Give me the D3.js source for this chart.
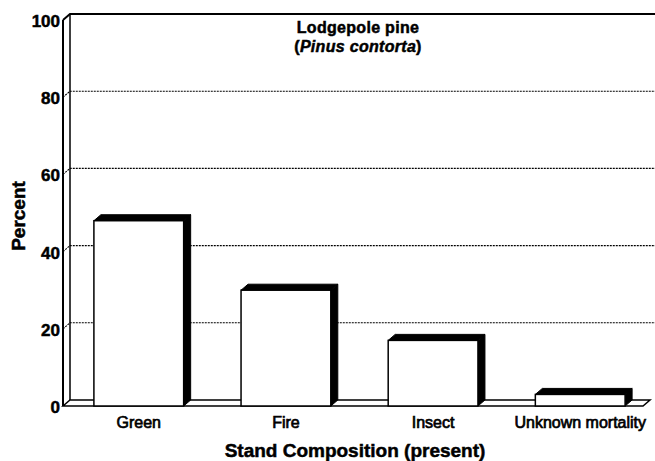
<!DOCTYPE html>
<html>
<head>
<meta charset="utf-8">
<script src="https://cdn.jsdelivr.net/npm/d3@7"></script>
<style>
  body { margin: 0; background: #fff; }
  text { font-family: "Liberation Sans", Arial, Helvetica, sans-serif; fill: #000; }
</style>
</head>
<body>
<script>
// chart values
var categories = ["Green", "Fire", "Insect", "Unknown mortality"];
var percents = [48, 30, 17, 3];
var yTicks = [0, 20, 40, 60, 80, 100];
var gridValues = [20, 40, 60, 80];

var width = 655, height = 461;
var depthX = 7, depthY = 6;   // 3d offset of the back wall and of the bars

var svg = d3.select("body").append("svg")
  .attr("width", width)
  .attr("height", height);

// front scale (percent on the front edge of the floor)
var yScale = d3.scaleLinear().domain([0, 100]).range([406, 20]);

var xScale = d3.scaleBand()
  .domain(categories)
  .range([63, 656])
  .paddingInner(0.39)
  .paddingOuter(0.21);

var axisLeftX = 63;
var floorRight = 643;

// dotted gridlines on the back wall
gridValues.forEach(function(v) {
  var yf = yScale(v);
  svg.append("path")
    .attr("d", "M" + axisLeftX + "," + yf + " L" + (axisLeftX + depthX) + "," + (yf - depthY) + " H" + width)
    .attr("fill", "none")
    .attr("stroke", "#000")
    .attr("stroke-width", 1.1)
    .attr("stroke-dasharray", "2,1");
});

// top edge of the wall
svg.append("path")
  .attr("d", "M" + axisLeftX + "," + yScale(100) + " L" + (axisLeftX + depthX) + "," + (yScale(100) - depthY) + " H" + width)
  .attr("fill", "none")
  .attr("stroke", "#000")
  .attr("stroke-width", 2);

// left wall: front and back lines
svg.append("line")
  .attr("x1", axisLeftX).attr("x2", axisLeftX)
  .attr("y1", yScale(100)).attr("y2", yScale(0))
  .attr("stroke", "#000").attr("stroke-width", 2);
svg.append("line")
  .attr("x1", axisLeftX + depthX).attr("x2", axisLeftX + depthX)
  .attr("y1", yScale(100) - depthY).attr("y2", yScale(0) - depthY)
  .attr("stroke", "#000").attr("stroke-width", 1.5);

// floor
var y0 = yScale(0);
svg.append("path")
  .attr("d", "M" + axisLeftX + "," + y0 + " L" + (axisLeftX + depthX) + "," + (y0 - depthY) +
    " H" + (floorRight + depthX) + " L" + floorRight + "," + y0 + " Z")
  .attr("fill", "#fff")
  .attr("stroke", "#000")
  .attr("stroke-width", 1.5);

// bars as 3d boxes
var bars = svg.selectAll("g.bar")
  .data(categories)
  .enter()
  .append("g")
  .attr("class", "bar");

bars.each(function(c, i) {
  var g = d3.select(this);
  var x0 = xScale(c);
  var w = xScale.bandwidth();
  var yt = yScale(percents[i]);

  // right side
  g.append("polygon")
    .attr("points", [[x0 + w, yt], [x0 + w + depthX, yt - depthY],
      [x0 + w + depthX, y0 - depthY], [x0 + w, y0]].join(" "))
    .attr("fill", "#000")
    .attr("stroke", "#000")
    .attr("stroke-width", 1);

  // top
  g.append("polygon")
    .attr("points", [[x0, yt], [x0 + depthX, yt - depthY],
      [x0 + w + depthX, yt - depthY], [x0 + w, yt]].join(" "))
    .attr("fill", "#000")
    .attr("stroke", "#000")
    .attr("stroke-width", 1);

  // front face
  g.append("rect")
    .attr("x", x0)
    .attr("y", yt)
    .attr("width", w)
    .attr("height", y0 - yt)
    .attr("fill", "#fff")
    .attr("stroke", "#000")
    .attr("stroke-width", 1.5);
});

// y axis labels
var yAxis = d3.axisLeft(yScale)
  .tickValues(yTicks)
  .tickSize(0)
  .tickPadding(3);

var yAxisG = svg.append("g")
  .attr("transform", "translate(" + axisLeftX + ",1)")
  .call(yAxis);
yAxisG.select(".domain").remove();
yAxisG.selectAll("text")
  .style("font-size", "17px")
  .style("font-weight", "bold")
  .style("font-family", "'Liberation Sans', Arial, sans-serif")
  .style("stroke", "#000")
  .style("stroke-width", "0.5px");

// x axis labels
var xAxis = d3.axisBottom(xScale)
  .tickSize(0)
  .tickPadding(11);

var xAxisG = svg.append("g")
  .attr("transform", "translate(0," + y0 + ")")
  .call(xAxis);
xAxisG.select(".domain").remove();
xAxisG.selectAll("text")
  .style("font-size", "16px")
  .style("font-family", "'Liberation Sans', Arial, sans-serif")
  .style("stroke", "#000")
  .style("stroke-width", "0.7px");

// axis titles
svg.append("text")
  .attr("transform", "translate(25,216) rotate(-90)")
  .attr("text-anchor", "middle")
  .style("font-size", "19px")
  .style("font-weight", "bold")
  .style("stroke", "#000")
  .style("stroke-width", "0.5px")
  .text("Percent");

svg.append("text")
  .attr("x", 355)
  .attr("y", 457)
  .attr("text-anchor", "middle")
  .style("font-size", "19px")
  .style("font-weight", "bold")
  .style("stroke", "#000")
  .style("stroke-width", "0.5px")
  .text("Stand Composition (present)");

// chart title
svg.append("text")
  .attr("x", 358)
  .attr("y", 33)
  .attr("text-anchor", "middle")
  .style("font-size", "16px")
  .style("font-weight", "bold")
  .style("letter-spacing", "0.3px")
  .style("stroke", "#000")
  .style("stroke-width", "0.5px")
  .text("Lodgepole pine");

var sub = svg.append("text")
  .attr("x", 358)
  .attr("y", 52)
  .attr("text-anchor", "middle")
  .style("font-size", "16px")
  .style("font-weight", "bold")
  .style("letter-spacing", "0.3px")
  .style("stroke", "#000")
  .style("stroke-width", "0.5px");
sub.append("tspan").text("(");
sub.append("tspan").style("font-style", "italic").text("Pinus contorta");
sub.append("tspan").text(")");
</script>
</body>
</html>
